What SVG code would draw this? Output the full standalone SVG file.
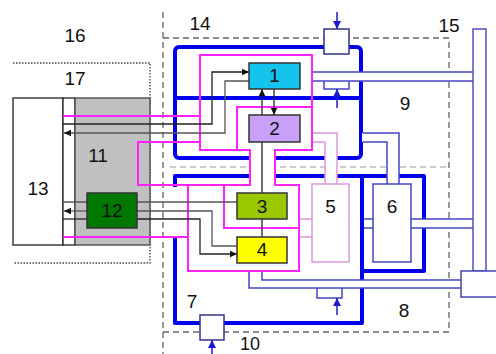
<svg xmlns="http://www.w3.org/2000/svg" width="496" height="354" viewBox="0 0 496 354">
<defs>
<marker id="ah" markerWidth="8" markerHeight="8" refX="7" refY="4" orient="auto" markerUnits="userSpaceOnUse"><path d="M0,0.8 L7,4 L0,7.2 z" fill="#111"/></marker>
<marker id="bh" markerWidth="10" markerHeight="10" refX="8" refY="5" orient="auto" markerUnits="userSpaceOnUse"><path d="M0,1 L8,5 L0,9 z" fill="#1a1ad0"/></marker>
</defs>
<style>
.lbl{font-family:"Liberation Sans",Arial,sans-serif;font-size:19px;fill:#111;text-anchor:middle}
.dash{fill:none;stroke:#666;stroke-width:1.3;stroke-dasharray:6 4}
.dashl{fill:none;stroke:#999;stroke-width:1;stroke-dasharray:6 4}
.dot{fill:none;stroke:#444;stroke-width:1.3;stroke-dasharray:1.5 1.5}
.tb{fill:none;stroke:#0000ee;stroke-width:4;stroke-linejoin:round}
.mb{fill:none;stroke:#4444c4;stroke-width:1.5}
.pk{fill:none;stroke:#ff22ff;stroke-width:2}
.lp{fill:none;stroke:#dd99dd;stroke-width:1.5}
.sig{fill:none;stroke:#222;stroke-width:1.3}
.sigg{fill:none;stroke:#555;stroke-width:1.3}
.box{stroke:#333;stroke-width:1.5}
.wf{fill:#fff;stroke:none}
.barr{fill:none;stroke:#1a1ad0;stroke-width:1.5}
</style>
<rect width="496" height="354" fill="#fff"/>

<g id="regions">
<path class="dash" d="M163,12 V354"/>
<path class="dash" d="M163,38 H449 V332 H163"/>
<path class="dashl" d="M170,167 H449"/>
<path class="dot" d="M13,63 H150 V263 H13"/>
<text class="lbl" x="75" y="42">16</text>
<text class="lbl" x="75" y="85">17</text>
<text class="lbl" x="200" y="30">14</text>
<text class="lbl" x="449" y="32">15</text>
<text class="lbl" x="405" y="110">9</text>
<text class="lbl" x="192" y="308">7</text>
<text class="lbl" x="404" y="317">8</text>
<text class="lbl" x="250" y="350" style="font-size:18px">10</text>
</g>

<g id="frames">
<rect class="tb" x="175" y="47" width="186" height="111" rx="4"/>
<path class="tb" d="M175,98 H361"/>
<path class="tb" d="M175,187 V176 H424 V271 H362"/>
<path class="tb" d="M362,176 V323 H175 V236"/>
</g>

<g id="box13">
<rect x="13" y="98" width="50" height="147" fill="#fff" stroke="#222" stroke-width="1.3"/>
<rect x="63" y="98" width="12" height="147" fill="#fff" stroke="#222" stroke-width="1.3"/>
<text class="lbl" x="38" y="195">13</text>
</g>
<g id="box11">
<rect x="75" y="98" width="75" height="147" fill="#c0c0c0" stroke="#444" stroke-width="1.3"/>
<text class="lbl" x="98" y="162">11</text>
</g>

<g id="connectors">
<rect class="wf" x="312" y="72" width="161" height="9"/>
<path class="mb" d="M312,72 H473 M312,81 H473"/>
<polygon class="wf" points="312,133 337,133 337,184 325,184 325,142 312,142"/>
<path class="lp" d="M312,133 H337 V184 M312,142 H325 V184"/>
<polygon class="wf" points="362,133 399,133 399,184 387,184 387,142 362,142"/>
<path class="mb" d="M363,133 H399 V184 M363,142 H387 V184"/>
<rect class="wf" x="411" y="219" width="62" height="9"/>
<path class="mb" d="M411,219 H473 M411,228 H473"/>
<rect class="wf" x="364" y="219" width="9" height="9"/>
<path class="mb" d="M364,219 H373 M364,228 H373"/>
<polygon class="wf" points="249,271 262,271 262,280 461,280 461,288 249,288"/>
<path class="mb" d="M262,271 V280 H461 M249,271 V288 H461"/>
<path class="lp" d="M299,219 H312 M299,237 H312"/>
<path class="pk" d="M63,116 H200"/>
<rect class="pk" x="200" y="55" width="112" height="95"/>
<path class="pk" d="M237,150 V107 H312"/>
<path class="pk" d="M200,142 H138 V185 H299 V271 H188 V185"/>
<path class="pk" d="M224,185 V228 H299"/>
<path class="pk" d="M63,237 H188"/>
<rect class="wf" x="251" y="149" width="23" height="37"/>
<path class="pk" d="M250,150 V185 M275,150 V185"/>
<path class="sig" d="M63,124 H212 V72 H249" marker-end="url(#ah)"/>
<path class="sigg" d="M249,81 H225 V133 H64" marker-end="url(#ah)"/>
<path class="sig" d="M262,115 V89" marker-end="url(#ah)"/>
<path class="sig" d="M274,89 V115" marker-end="url(#ah)"/>
<path class="sig" d="M262,142 V193 M262,219 V237"/>
<path class="sigg" d="M63,202 H237"/>
<path class="sigg" d="M87,211 H64" marker-end="url(#ah)"/>
<path class="sigg" d="M137,211 H212 V246 H237"/>
<path class="sig" d="M63,219 H87"/>
<path class="sig" d="M137,219 H200 V254 H237" marker-end="url(#ah)"/>
<path class="mb" d="M324,81 V89 H349 V81"/>
<path class="mb" d="M317,288 V298 H342 V288"/>
<path class="barr" d="M337,12 V29" marker-end="url(#bh)"/>
<path class="barr" d="M337,108 V89" marker-end="url(#bh)"/>
<path class="barr" d="M337,315 V298" marker-end="url(#bh)"/>
<path class="barr" d="M212,354 V340" marker-end="url(#bh)"/>
</g>

<g id="box1"><rect class="box" x="249" y="63" width="51" height="26" fill="#14c4ee"/><text class="lbl" x="274.5" y="82">1</text></g>
<g id="box2"><rect class="box" x="249" y="115" width="51" height="27" fill="#c8a0f8"/><text class="lbl" x="274.5" y="135">2</text></g>
<g id="box3"><rect class="box" x="237" y="193" width="50" height="26" fill="#99c800"/><text class="lbl" x="262" y="213">3</text></g>
<g id="box4"><rect class="box" x="237" y="237" width="50" height="26" fill="#ffff00"/><text class="lbl" x="262" y="256">4</text></g>
<g id="box5"><rect x="312" y="184" width="37" height="78" fill="#fff" stroke="#dd99dd" stroke-width="1.5"/><text class="lbl" x="330.5" y="213">5</text></g>
<g id="box6"><rect x="373" y="184" width="38" height="78" fill="#fff" stroke="#4444c4" stroke-width="1.5"/><text class="lbl" x="392" y="213">6</text></g>
<g id="box12"><rect class="box" x="87" y="193" width="50" height="35" fill="#007800"/><text class="lbl" x="112" y="217">12</text></g>
<g id="bar15"><rect x="473" y="29" width="13" height="242" fill="#fff" stroke="#5050c0" stroke-width="1.5"/></g>
<g id="boxR"><rect x="461" y="271" width="40" height="26" fill="#fff" stroke="#4444b0" stroke-width="1.5"/></g>
<g id="boxTop"><rect x="324" y="29" width="25" height="25" fill="#fff" stroke="#303090" stroke-width="1.5"/></g>
<g id="box10"><rect x="200" y="315" width="24" height="25" fill="#fff" stroke="#303090" stroke-width="1.5"/></g>
</svg>
